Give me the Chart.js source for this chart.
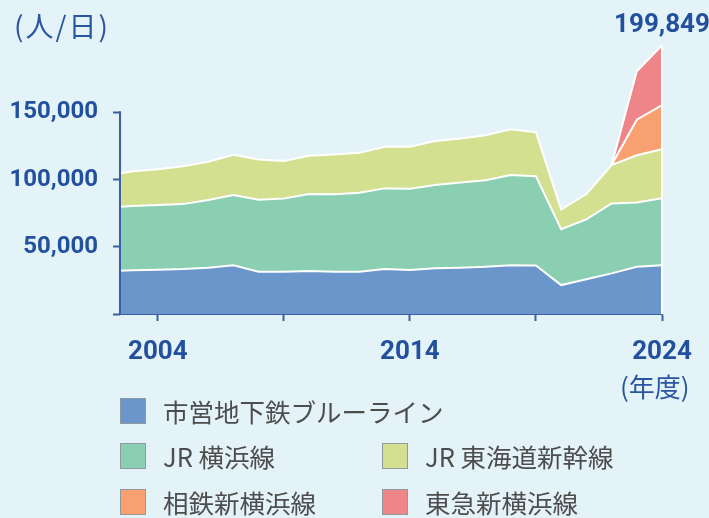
<!DOCTYPE html>
<html lang="ja">
<head>
<meta charset="utf-8">
<title>新横浜駅 乗車人員の推移</title>
<script src="https://cdn.jsdelivr.net/npm/chart.js@4.4.1/dist/chart.umd.min.js"></script>
<style>
  body { margin: 0; background: #e4f3f8; }
  #wrap { position: relative; width: 709px; height: 518px; overflow: hidden; font-family: "Noto Sans CJK JP", sans-serif; }
  #chart { position: absolute; left: 0; top: 0; }
  .unit { position: absolute; color: #2a55a0; line-height: 1; white-space: nowrap; }
  .item { position: absolute; height: 26px; display: flex; align-items: center; white-space: nowrap; }
  .item i { display: inline-block; width: 24px; height: 24px; border: 1px solid #8f9a9e; margin-right: 17px; }
  .item span { font-size: 25.5px; line-height: 26px; color: #4d4d4d; }
</style>
</head>
<body>
<div id="wrap">
  <canvas id="chart" width="709" height="518"></canvas>
  <div class="unit" style="left:14px; top:11px; font-size:28px; letter-spacing:2px;">(人/日)</div>
  <div class="unit" style="left:620px; top:373px; font-size:26px;">(年度)</div>
  <div id="legend"></div>
</div>
<script>
// 年度
const years = [2002, 2003, 2004, 2005, 2006, 2007, 2008, 2009, 2010, 2011, 2012, 2013,
               2014, 2015, 2016, 2017, 2018, 2019, 2020, 2021, 2022, 2023, 2024];

// 路線別 乗車人員 (人/日)
const subway   = [31900, 32500, 32900, 33400, 34400, 36200, 31400, 31400, 31950, 31400, 31400, 33400,
                  32700, 34000, 34400, 35100, 36200, 36000, 21500, 25800, 30200, 35100, 36200];
const jrYokohama = [47300, 47800, 48100, 48300, 50300, 52200, 53500, 54500, 57200, 57700, 58700, 60000,
                    60400, 61900, 63400, 64400, 67100, 66400, 41600, 44600, 52000, 47800, 49800];
const jrTokaido  = [23800, 25800, 26700, 28200, 28500, 29900, 29900, 27900, 28500, 29500, 29700, 30900,
                    31200, 32700, 32700, 33400, 34000, 32700, 14600, 18800, 28500, 35100, 36600];
const sotetsu  = [null, null, null, null, null, null, null, null, null, null, null, null,
                  null, null, null, null, null, null, null, null, 0, 26500, 32700];
const tokyu    = [null, null, null, null, null, null, null, null, null, null, null, null,
                  null, null, null, null, null, null, null, null, 0, 35900, 44549];

const seriesNames = ['市営地下鉄ブルーライン', 'JR 横浜線', 'JR 東海道新幹線', '相鉄新横浜線', '東急新横浜線'];
const seriesColors = ['#6b96cc', '#8bcfb2', '#d2e08f', '#f9a070', '#ee8589'];

const yTicks = [0, 50000, 100000, 150000];
const xTicks = [2004, 2009, 2014, 2019, 2024];
const xLabelYears = [2004, 2014, 2024];

const axisColor = '#3a5fa6';
const labelColor = '#22509e';
const numFont = "Roboto, sans-serif";

const allSeries = [subway, jrYokohama, jrTokaido, sotetsu, tokyu];

const datasets = allSeries.map((vals, i) => ({
  label: seriesNames[i],
  data: years.map((yr, j) => ({ x: yr, y: vals[j] })),
  backgroundColor: seriesColors[i],
  borderColor: '#ffffff',
  borderWidth: 2,
  pointRadius: 0,
  tension: 0,
  fill: i === 0 ? 'origin' : '-1'
}));

// 縦軸線(150,000まで)・最終年度の合計値
const extras = {
  id: 'extras',
  afterDatasetsDraw(chart) {
    const { ctx, chartArea, scales: { x, y } } = chart;
    const last = years.length - 1;
    const total = allSeries.reduce((s, arr) => s + (arr[last] || 0), 0);
    const px = x.getPixelForValue(years[last]);
    ctx.save();
    ctx.strokeStyle = '#ffffff';
    ctx.lineWidth = 2;
    ctx.beginPath();
    ctx.moveTo(px, y.getPixelForValue(total));
    ctx.lineTo(px, y.getPixelForValue(0));
    ctx.stroke();

    ctx.strokeStyle = axisColor;
    ctx.lineWidth = 2;
    ctx.beginPath();
    ctx.moveTo(chartArea.left, y.getPixelForValue(0) + 1);
    ctx.lineTo(chartArea.left, y.getPixelForValue(yTicks[yTicks.length - 1]) - 1);
    ctx.stroke();

    ctx.fillStyle = labelColor;
    ctx.font = 'bold 26px ' + numFont;
    ctx.textAlign = 'center';
    ctx.textBaseline = 'alphabetic';
    ctx.fillText(total.toLocaleString('en-US'), px, y.getPixelForValue(total) - 13);
    ctx.restore();
  }
};

new Chart(document.getElementById('chart'), {
  type: 'line',
  data: { datasets: datasets },
  options: {
    responsive: false,
    animation: false,
    events: [],
    layout: { padding: { left: 0, right: 47, top: 45, bottom: 144 } },
    plugins: { legend: { display: false }, tooltip: { enabled: false } },
    scales: {
      x: {
        type: 'linear',
        min: 2002.5,
        max: 2024,
        afterBuildTicks: (scale) => { scale.ticks = xTicks.map(v => ({ value: v })); },
        afterFit: (scale) => { scale.height = 60; },
        grid: { drawOnChartArea: false, drawTicks: true, tickLength: 7, tickColor: axisColor, tickWidth: 2 },
        border: { display: true, color: axisColor, width: 2 },
        ticks: {
          autoSkip: false, maxRotation: 0, padding: 16, color: labelColor,
          font: { family: numFont, size: 26, weight: 'bold' },
          callback: (v) => xLabelYears.includes(v) ? String(v) : ''
        }
      },
      y: {
        stacked: true,
        min: 0,
        max: 200000,
        afterBuildTicks: (scale) => { scale.ticks = yTicks.map(v => ({ value: v })); },
        afterFit: (scale) => { scale.width = 120; },
        grid: { drawOnChartArea: false, drawTicks: true, tickLength: 7, tickColor: axisColor, tickWidth: 2 },
        border: { display: false },
        ticks: {
          padding: 15, color: labelColor,
          font: { family: numFont, size: 24, weight: 'bold' },
          callback: (v) => v === 0 ? '' : v.toLocaleString('en-US')
        }
      }
    }
  },
  plugins: [extras]
});

// 凡例
const legendPos = [[120, 398], [120, 443], [382, 443], [120, 489], [382, 489]];
const legend = document.getElementById('legend');
seriesNames.forEach((name, i) => {
  const el = document.createElement('div');
  el.className = 'item';
  el.style.left = legendPos[i][0] + 'px';
  el.style.top = legendPos[i][1] + 'px';
  el.innerHTML = '<i style="background:' + seriesColors[i] + '"></i><span>' + name + '</span>';
  legend.appendChild(el);
});
</script>
</body>
</html>
